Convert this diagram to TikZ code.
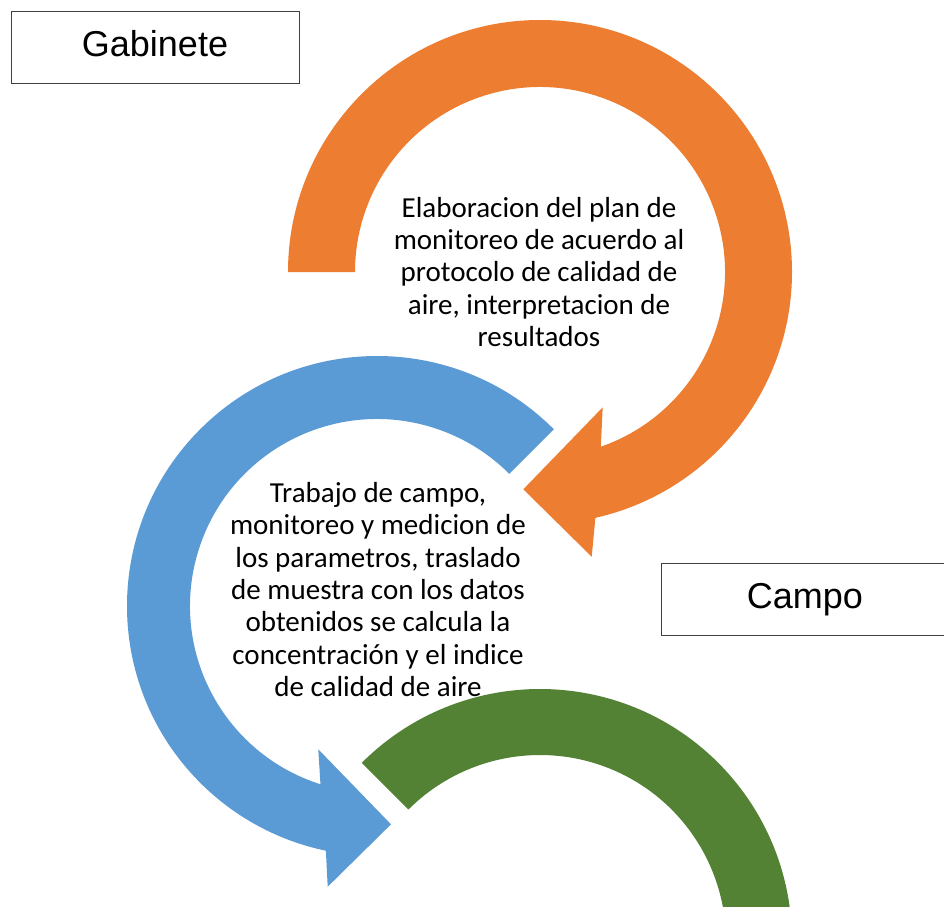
\documentclass[tikz,border=0pt]{standalone}
\usepackage{fontspec}
\setmainfont{Carlito}
\newfontfamily\arialfont{Liberation Sans}
\usetikzlibrary{calc}
\definecolor{arcorange}{HTML}{ED7D31}
\definecolor{arcblue}{HTML}{5B9BD5}
\definecolor{arcgreen}{HTML}{548235}
\definecolor{boxline}{HTML}{404040}
\begin{document}
\begin{tikzpicture}[x=1pt,y=1pt,
  labelbox/.style={draw=boxline, fill=white, line width=1pt, minimum width=288pt, minimum height=72pt,
    font=\arialfont\fontsize{36}{43}\selectfont, text height=26pt, text depth=8pt, inner sep=0pt},
  bodytext/.style={align=center, font=\fontsize{29}{32.3}\selectfont, inner sep=0pt}]
\useasboundingbox (0,0) rectangle (944,-906);
\fill[white] (0,0) rectangle (944,-906);
\clip (0,0) rectangle (944,-906);
\coordinate (oc) at (540,-272);
\coordinate (bc) at (377,-606);
\coordinate (gc) at (540,-941);
% orange arrow
\fill[arcorange] ($(oc)+(180:252)$) arc[start angle=180, end angle=-77.3, radius=252]
  -- (591.7,-556.7) -- (523.3,-489.3) -- (602.7,-407.3)
  -- ($(oc)+(-70.8:185)$) arc[start angle=-70.8, end angle=180, radius=185] -- cycle;
% blue arrow
\fill[arcblue] ($(bc)+(45:250)$) arc[start angle=45, end angle=258.2, radius=250]
  -- (327.7,-886.7) -- (391,-824.3) -- (318.3,-749.3)
  -- ($(bc)+(252.4:187)$) arc[start angle=252.4, end angle=45, radius=187] -- cycle;
% green arc
\fill[arcgreen] ($(gc)+(135:252)$) arc[start angle=135, end angle=-20, radius=252]
  -- ($(gc)+(-20:186)$) arc[start angle=-20, end angle=135, radius=186] -- cycle;
% texts
\node[bodytext] (plan) at (539,-272) {Elaboracion del plan de\\monitoreo de acuerdo al\\protocolo de calidad de\\aire, interpretacion de\\resultados};
\node[bodytext] (campo text) at (378,-589.5) {Trabajo de campo,\\monitoreo y medicion de\\los parametros, traslado\\de muestra con los datos\\obtenidos se calcula la\\concentración y el indice\\de calidad de aire};
\node[labelbox] (gab) at (155,-47) {Gabinete};
\node[labelbox] (campo) at (805,-599) {Campo};
\end{tikzpicture}
\end{document}
